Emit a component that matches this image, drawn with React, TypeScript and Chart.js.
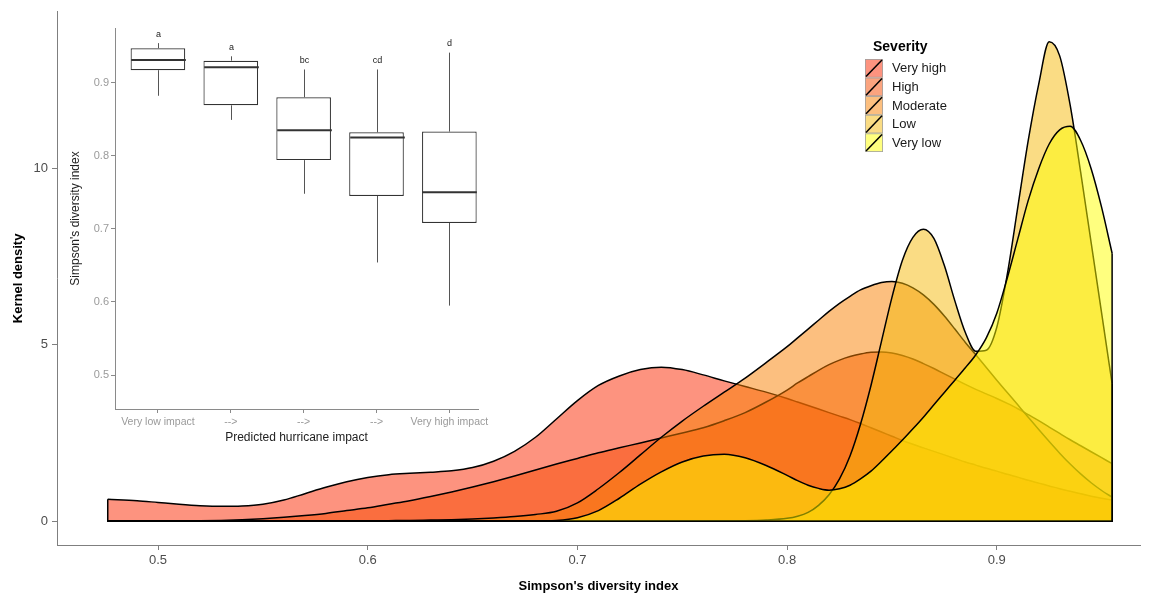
import React, { useEffect, useRef } from "react";
import { Chart, registerables } from "chart.js";
Chart.register(...registerables);

const FONT = "'Liberation Sans', Arial, Helvetica, sans-serif";

// ---------- main density chart data ----------
const severityNames = ["Very high", "High", "Moderate", "Low", "Very low"];
const severityFills = [
  "rgba(252,40,0,0.5)",
  "rgba(247,73,0,0.5)",
  "rgba(249,128,0,0.5)",
  "rgba(245,185,10,0.5)",
  "rgba(255,255,0,0.5)",
];

const densityX = [
  0.476, 0.49, 0.5, 0.51, 0.52, 0.53, 0.54, 0.55, 0.56, 0.57, 0.58, 0.59, 0.6, 0.61, 0.62, 0.63,
  0.64, 0.65, 0.66, 0.67, 0.68, 0.69, 0.7, 0.71, 0.72, 0.73, 0.74, 0.75, 0.76, 0.77, 0.78, 0.79,
  0.8, 0.805, 0.81, 0.815, 0.82, 0.825, 0.83, 0.835, 0.84, 0.845, 0.85, 0.855, 0.86, 0.865, 0.87,
  0.875, 0.88, 0.885, 0.89, 0.895, 0.9, 0.905, 0.91, 0.915, 0.92, 0.925, 0.93, 0.935, 0.94, 0.945,
  0.95, 0.955,
];

const veryHighDensity = [
  0.62, 0.58, 0.53, 0.48, 0.44, 0.42, 0.43, 0.48, 0.6, 0.78, 0.96, 1.12, 1.24, 1.32, 1.36, 1.39,
  1.43, 1.52, 1.7, 1.98, 2.38, 2.9, 3.42, 3.85, 4.12, 4.3, 4.37, 4.3, 4.15, 3.98, 3.82, 3.66,
  3.48, 3.38, 3.28, 3.18, 3.08, 2.98, 2.88, 2.77, 2.65, 2.53, 2.41, 2.29, 2.18, 2.08, 1.98,
  1.88, 1.78, 1.68, 1.59, 1.5, 1.42, 1.33, 1.25, 1.16, 1.08, 1.0, 0.92, 0.85, 0.78, 0.71,
  0.65, 0.6,
];

const highDensity = [
  0, 0, 0, 0.005, 0.01, 0.02, 0.04, 0.07, 0.11, 0.16, 0.22, 0.3, 0.38, 0.48, 0.58, 0.7,
  0.83, 0.97, 1.12, 1.28, 1.45, 1.62, 1.78, 1.94, 2.08, 2.22, 2.36, 2.5, 2.65, 2.85, 3.08, 3.38,
  3.72, 3.92, 4.1, 4.28, 4.44, 4.57, 4.67, 4.74, 4.79, 4.8, 4.77, 4.7, 4.6, 4.47, 4.33,
  4.18, 4.03, 3.88, 3.74, 3.61, 3.48, 3.34, 3.19, 3.02, 2.85, 2.67, 2.49, 2.31, 2.14, 1.97,
  1.8, 1.63,
];

const moderateDensity = [
  0, 0, 0, 0, 0, 0, 0, 0, 0, 0, 0, 0, 0.01, 0.015, 0.02, 0.03,
  0.04, 0.06, 0.09, 0.13, 0.19, 0.28, 0.52, 0.92, 1.38, 1.88, 2.38, 2.84, 3.26, 3.66, 4.06, 4.5,
  4.95, 5.2, 5.45, 5.7, 5.95, 6.18, 6.38, 6.56, 6.68, 6.77, 6.8, 6.75, 6.62, 6.42, 6.15,
  5.82, 5.45, 5.07, 4.72, 4.36, 4.0, 3.65, 3.3, 2.95, 2.6, 2.26, 1.93, 1.62, 1.34, 1.09,
  0.87, 0.68,
];

const lowDensity = [
  0, 0, 0, 0, 0, 0, 0, 0, 0, 0, 0, 0, 0, 0, 0, 0,
  0, 0, 0, 0, 0, 0, 0, 0, 0, 0, 0, 0, 0, 0.005, 0.01, 0.03,
  0.08, 0.14, 0.25, 0.45, 0.75, 1.2, 1.85, 2.75, 3.85, 5.1, 6.35, 7.4, 8.05, 8.28, 8.02,
  7.25, 6.25, 5.35, 4.82, 4.85, 5.5, 7.0, 8.9, 10.8, 12.4, 13.6, 13.2, 11.8, 9.9, 7.9,
  5.9, 3.9,
];

const veryLowDensity = [
  0, 0, 0, 0, 0, 0, 0, 0, 0, 0, 0, 0, 0, 0, 0, 0,
  0, 0, 0, 0, 0, 0.02, 0.1, 0.3, 0.65, 1.05, 1.4, 1.68, 1.85, 1.9, 1.8, 1.58,
  1.3, 1.15, 1.02, 0.93, 0.88, 0.92, 1.02, 1.2, 1.42, 1.7, 2.0, 2.3, 2.62, 2.95, 3.3,
  3.65, 4.0, 4.35, 4.72, 5.2, 5.9, 6.9, 8.0, 9.1, 10.0, 10.7, 11.1, 11.2, 10.8, 10.0,
  8.9, 7.6,
];

const densitySeries = [veryHighDensity, highDensity, moderateDensity, lowDensity, veryLowDensity];

const xTickValues = [0.5, 0.6, 0.7, 0.8, 0.9];
const yTickValues = [0, 5, 10];

// ---------- inset boxplot data ----------
const impactLabels = ["Very low impact", "-->", "-->", "-->", "Very high impact"];
const boxLowWhisker = [0.882, 0.849, 0.748, 0.654, 0.595];
const boxQ1 = [0.917, 0.869, 0.794, 0.745, 0.708];
const boxMedian = [0.931, 0.921, 0.835, 0.825, 0.75];
const boxQ3 = [0.947, 0.93, 0.88, 0.832, 0.833];
const boxHighWhisker = [0.954, 0.936, 0.918, 0.918, 0.941];
const groupLetters = ["a", "a", "bc", "cd", "d"];
const insetYTicks = [0.5, 0.6, 0.7, 0.8, 0.9];

const edgePlugin = {
  id: "densityEdges",
  afterDatasetDraw(chart: any, args: any) {
    const pts = args.meta.data;
    if (!pts || !pts.length) return;
    const y0 = chart.scales.y.getPixelForValue(0);
    const first = pts[0];
    const last = pts[pts.length - 1];
    const ctx = chart.ctx;
    ctx.save();
    ctx.strokeStyle = "#000";
    ctx.lineWidth = 1.5;
    ctx.lineJoin = "round";
    ctx.beginPath();
    ctx.moveTo(last.x, last.y);
    ctx.lineTo(last.x, y0);
    ctx.lineTo(first.x, y0);
    ctx.lineTo(first.x, first.y);
    ctx.stroke();
    ctx.restore();
  },
};

const legendPlugin = {
  id: "severityLegend",
  afterDraw(chart: any) {
    const ctx = chart.ctx;
    ctx.save();
    ctx.textBaseline = "middle";
    ctx.textAlign = "left";
    ctx.fillStyle = "#000";
    ctx.font = `bold 14px ${FONT}`;
    ctx.fillText("Severity", 873, 47);
    const x0 = 865;
    const y0 = 59;
    const sw = 18;
    const sh = 18.6;
    chart.data.datasets.forEach((ds: any, i: number) => {
      const y = y0 + i * sh;
      ctx.fillStyle = "#fff";
      ctx.fillRect(x0, y, sw, sh);
      ctx.fillStyle = ds.backgroundColor;
      ctx.fillRect(x0, y, sw, sh);
      ctx.strokeStyle = "#a0a0a0";
      ctx.lineWidth = 0.8;
      ctx.strokeRect(x0 + 0.4, y + 0.4, sw - 0.8, sh - 0.8);
      ctx.strokeStyle = "#000";
      ctx.lineWidth = 1.5;
      ctx.beginPath();
      ctx.moveTo(x0 + 1, y + sh - 1);
      ctx.lineTo(x0 + sw - 1, y + 1);
      ctx.stroke();
      ctx.fillStyle = "#1a1a1a";
      ctx.font = `13px ${FONT}`;
      ctx.fillText(ds.label, 892, y + sh / 2 + 0.5);
    });
    ctx.restore();
  },
};

const boxPartsPlugin = {
  id: "boxParts",
  afterDatasetsDraw(chart: any) {
    const ctx = chart.ctx;
    const xs = chart.scales.x;
    const ys = chart.scales.y;
    const meta = chart.getDatasetMeta(0);
    ctx.save();
    const seg = (x1: number, y1: number, x2: number, y2: number) => {
      ctx.beginPath();
      ctx.moveTo(x1, y1);
      ctx.lineTo(x2, y2);
      ctx.stroke();
    };
    boxMedian.forEach((m, i) => {
      const cx = Math.round(xs.getPixelForValue(i + 1)) + 0.5;
      const half = meta.data[i] ? meta.data[i].width / 2 : 27;
      ctx.strokeStyle = "#555";
      ctx.lineWidth = 1;
      seg(cx, ys.getPixelForValue(boxQ3[i]), cx, ys.getPixelForValue(boxHighWhisker[i]));
      seg(cx, ys.getPixelForValue(boxQ1[i]), cx, ys.getPixelForValue(boxLowWhisker[i]));
      ctx.strokeStyle = "#333";
      ctx.lineWidth = 2;
      const ym = ys.getPixelForValue(m);
      seg(cx - half, ym, cx + half, ym);
      ctx.fillStyle = "#222";
      ctx.font = `9px ${FONT}`;
      ctx.textAlign = "center";
      ctx.textBaseline = "middle";
      ctx.fillText(groupLetters[i], cx, ys.getPixelForValue(boxHighWhisker[i]) - 9);
    });
    ctx.restore();
  },
};

export default function App() {
  const mainRef = useRef<HTMLCanvasElement>(null);
  const insetRef = useRef<HTMLCanvasElement>(null);

  useEffect(() => {
    const main = new Chart(mainRef.current as HTMLCanvasElement, {
      type: "line",
      data: {
        datasets: severityNames.map((name, i) => ({
          label: name,
          data: densityX.map((x, j) => ({ x, y: densitySeries[i][j] })),
          backgroundColor: severityFills[i],
          borderColor: "#000",
          borderWidth: 1.5,
          fill: "origin",
          pointRadius: 0,
          pointHoverRadius: 0,
          cubicInterpolationMode: "monotone",
          order: severityNames.length - i,
        })),
      },
      options: {
        animation: false,
        responsive: false,
        events: [],
        layout: { padding: { top: 10, right: 17, left: 0, bottom: 0 } },
        plugins: {
          legend: { display: false },
          tooltip: { enabled: false },
          filler: { propagate: false },
        },
        scales: {
          x: {
            type: "linear",
            min: 0.4518,
            max: 0.9683,
            afterBuildTicks: (s: any) => {
              s.ticks = xTickValues.map((v) => ({ value: v }));
            },
            afterFit: (s: any) => {
              s.height = 51;
            },
            ticks: {
              callback: (v: any) => String(v),
              color: "#4d4d4d",
              font: { family: FONT, size: 13 },
              padding: 3,
              maxRotation: 0,
            },
            grid: { drawOnChartArea: false, drawTicks: true, tickLength: 5, color: "#7f7f7f" },
            border: { display: true, color: "#7f7f7f", width: 1 },
            title: {
              display: true,
              text: "Simpson's diversity index",
              color: "#000",
              font: { family: FONT, size: 13, weight: "bold" },
              padding: { top: 0, bottom: 2 },
            },
          },
          y: {
            type: "linear",
            min: -0.676,
            max: 14.45,
            afterBuildTicks: (s: any) => {
              s.ticks = yTickValues.map((v) => ({ value: v }));
            },
            afterFit: (s: any) => {
              s.width = 57;
            },
            ticks: {
              color: "#4d4d4d",
              font: { family: FONT, size: 13 },
              padding: 4,
            },
            grid: { drawOnChartArea: false, drawTicks: true, tickLength: 5, color: "#7f7f7f" },
            border: { display: true, color: "#7f7f7f", width: 1 },
            title: {
              display: true,
              text: "Kernel density",
              color: "#000",
              font: { family: FONT, size: 13, weight: "bold" },
              padding: { top: 11, bottom: 0 },
            },
          },
        },
      },
      plugins: [edgePlugin, legendPlugin],
    } as any);

    const inset = new Chart(insetRef.current as HTMLCanvasElement, {
      type: "bar",
      data: {
        datasets: [
          {
            data: boxQ1.map((q1, i) => ({ x: i + 1, y: [q1, boxQ3[i]] })),
            backgroundColor: "#ffffff",
            borderColor: "#333",
            borderWidth: 1.2,
            borderSkipped: false,
            barPercentage: 0.75,
            categoryPercentage: 1,
          },
        ],
      },
      options: {
        animation: false,
        responsive: false,
        events: [],
        layout: { padding: { top: 13, right: 32, left: 0, bottom: 0 } },
        plugins: { legend: { display: false }, tooltip: { enabled: false } },
        scales: {
          x: {
            type: "linear",
            min: 0.411,
            max: 5.393,
            offset: false,
            afterBuildTicks: (s: any) => {
              s.ticks = impactLabels.map((_, i) => ({ value: i + 1 }));
            },
            afterFit: (s: any) => {
              s.height = 46;
            },
            ticks: {
              callback: (v: any) => impactLabels[Math.round(v) - 1],
              color: "#9a9a9a",
              font: { family: FONT, size: 10.5 },
              padding: 3,
              maxRotation: 0,
              autoSkip: false,
            },
            grid: { offset: false, drawOnChartArea: false, drawTicks: true, tickLength: 4, color: "#8a8a8a" },
            border: { display: true, color: "#8a8a8a", width: 1 },
            title: {
              display: true,
              text: "Predicted hurricane impact",
              color: "#222",
              font: { family: FONT, size: 12 },
              padding: { top: 0, bottom: 10 },
            },
          },
          y: {
            type: "linear",
            min: 0.4536,
            max: 0.9747,
            afterBuildTicks: (s: any) => {
              s.ticks = insetYTicks.map((v) => ({ value: v }));
            },
            afterFit: (s: any) => {
              s.width = 55;
            },
            ticks: {
              callback: (v: any) => Number(v).toFixed(1),
              color: "#9a9a9a",
              font: { family: FONT, size: 11 },
              padding: 2,
            },
            grid: { drawOnChartArea: false, drawTicks: true, tickLength: 4, color: "#8a8a8a" },
            border: { display: true, color: "#8a8a8a", width: 1 },
            title: {
              display: true,
              text: "Simpson's diversity index",
              color: "#222",
              font: { family: FONT, size: 12 },
              padding: { top: 8, bottom: 0 },
            },
          },
        },
      },
      plugins: [boxPartsPlugin],
    } as any);

    return () => {
      main.destroy();
      inset.destroy();
    };
  }, []);

  return (
    <div style={{ position: "absolute", left: 0, top: 0, width: 1157, height: 596, background: "#fff" }}>
      <canvas ref={mainRef} width={1157} height={596} style={{ position: "absolute", left: 0, top: 0 }} />
      <canvas ref={insetRef} width={450} height={440} style={{ position: "absolute", left: 60, top: 15 }} />
    </div>
  );
}
